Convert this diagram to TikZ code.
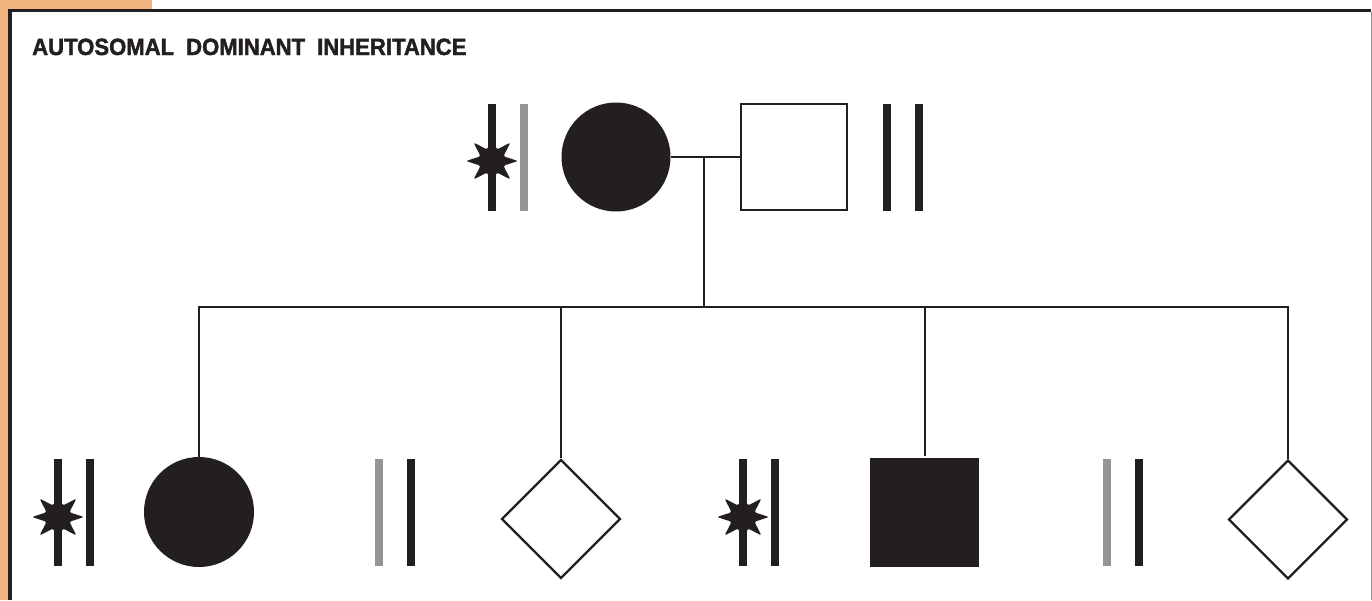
\documentclass[tikz,border=0pt]{standalone}
\usepackage{fontspec}
\setmainfont{Liberation Sans}
\usetikzlibrary{positioning}
\usetikzlibrary{shapes.geometric}

\definecolor{ink}{HTML}{231F20}
\definecolor{allele}{HTML}{939598}
\definecolor{peach}{HTML}{F2B27E}

\tikzset{
  bar/.style={rectangle, fill=ink, inner sep=0pt, minimum width=8, minimum height=107},
  graybar/.style={bar, fill=allele},
  mutation/.style={star, star points=8, star point ratio=2.1, fill=ink, inner sep=0pt,
    minimum size=52, rounded corners=2pt},
  female/.style={circle, fill=ink, inner sep=0pt, minimum size=109},
  male/.style={rectangle, draw=ink, line width=2.2pt, inner sep=0pt, minimum size=106},
  unknown/.style={diamond, draw=ink, line width=2.4pt, inner sep=0pt, minimum size=119},
  link/.style={draw=ink, line width=2pt}
}

\begin{document}
\begin{tikzpicture}[x=1pt, y=-1pt]
\useasboundingbox (0,0) rectangle (1372,600);

% frame
\fill[peach] (0,0) rectangle (8,600);
\fill[peach] (0,0) rectangle (152,9);
\draw[ink, line width=3.5pt] (8,10.5) -- (1371,10.5);
\draw[ink, line width=4pt] (10,9) -- (10,600);
\draw[allele, line width=1pt] (1371,12) -- (1371,600);

\node[anchor=base west, inner sep=0pt, text=ink,
  font=\bfseries\fontsize{23.5}{24}\selectfont\addfontfeatures{FakeBold=1.8,FakeStretch=0.94}]
  (title) at (32,55) {AUTOSOMAL\hspace{12pt}DOMINANT\hspace{12pt}INHERITANCE};

% parents
\node[female] (mom) at (616,157) {};
\node[male] (dad) at (794,157) {};
\node[bar] (momA) at (492,157.5) {};
\node[graybar] (momB) at (524,157.5) {};
\node[mutation] (momstar) at (492,161) {};
\node[bar] (dadA) at (887,157.5) {};
\node[bar] (dadB) at (919,157.5) {};

% children
\node[female, minimum size=110] (kidA) at (199,512) {};
\node[unknown] (kidB) at (561,519) {};
\node[male, fill=ink, draw=none, minimum size=109] (kidC) at (924.5,512) {};
\node[unknown] (kidD) at (1288,519.5) {};

\node[bar] (kidAa) at (58,512) {};
\node[bar] (kidAb) at (90,512) {};
\node[mutation] (kidAstar) at (58,517) {};
\node[graybar] (kidBa) at (379,512) {};
\node[bar] (kidBb) at (411,512) {};
\node[bar] (kidCa) at (743,512) {};
\node[bar] (kidCb) at (775,512) {};
\node[mutation] (kidCstar) at (743,517) {};
\node[graybar] (kidDa) at (1107,512) {};
\node[bar] (kidDb) at (1139,512) {};

% lines of descent
\coordinate (mate) at (704,157);
\coordinate (sib) at (704,307);
\coordinate (sibA) at (199,307);
\coordinate (sibB) at (561,307);
\coordinate (sibC) at (924.5,307);
\coordinate (sibD) at (1288,307);

\draw[link] (mom.east) -- (dad.west);
\draw[link] (mate) -- (sib);
\draw[link] ([xshift=-1pt]sibA) -- ([xshift=1pt]sibD);
\draw[link] (sibA) -- (kidA.north);
\draw[link] (sibB) -- (kidB.north);
\draw[link] (sibC) -- (kidC.north);
\draw[link] (sibD) -- (kidD.north);
\end{tikzpicture}
\end{document}
